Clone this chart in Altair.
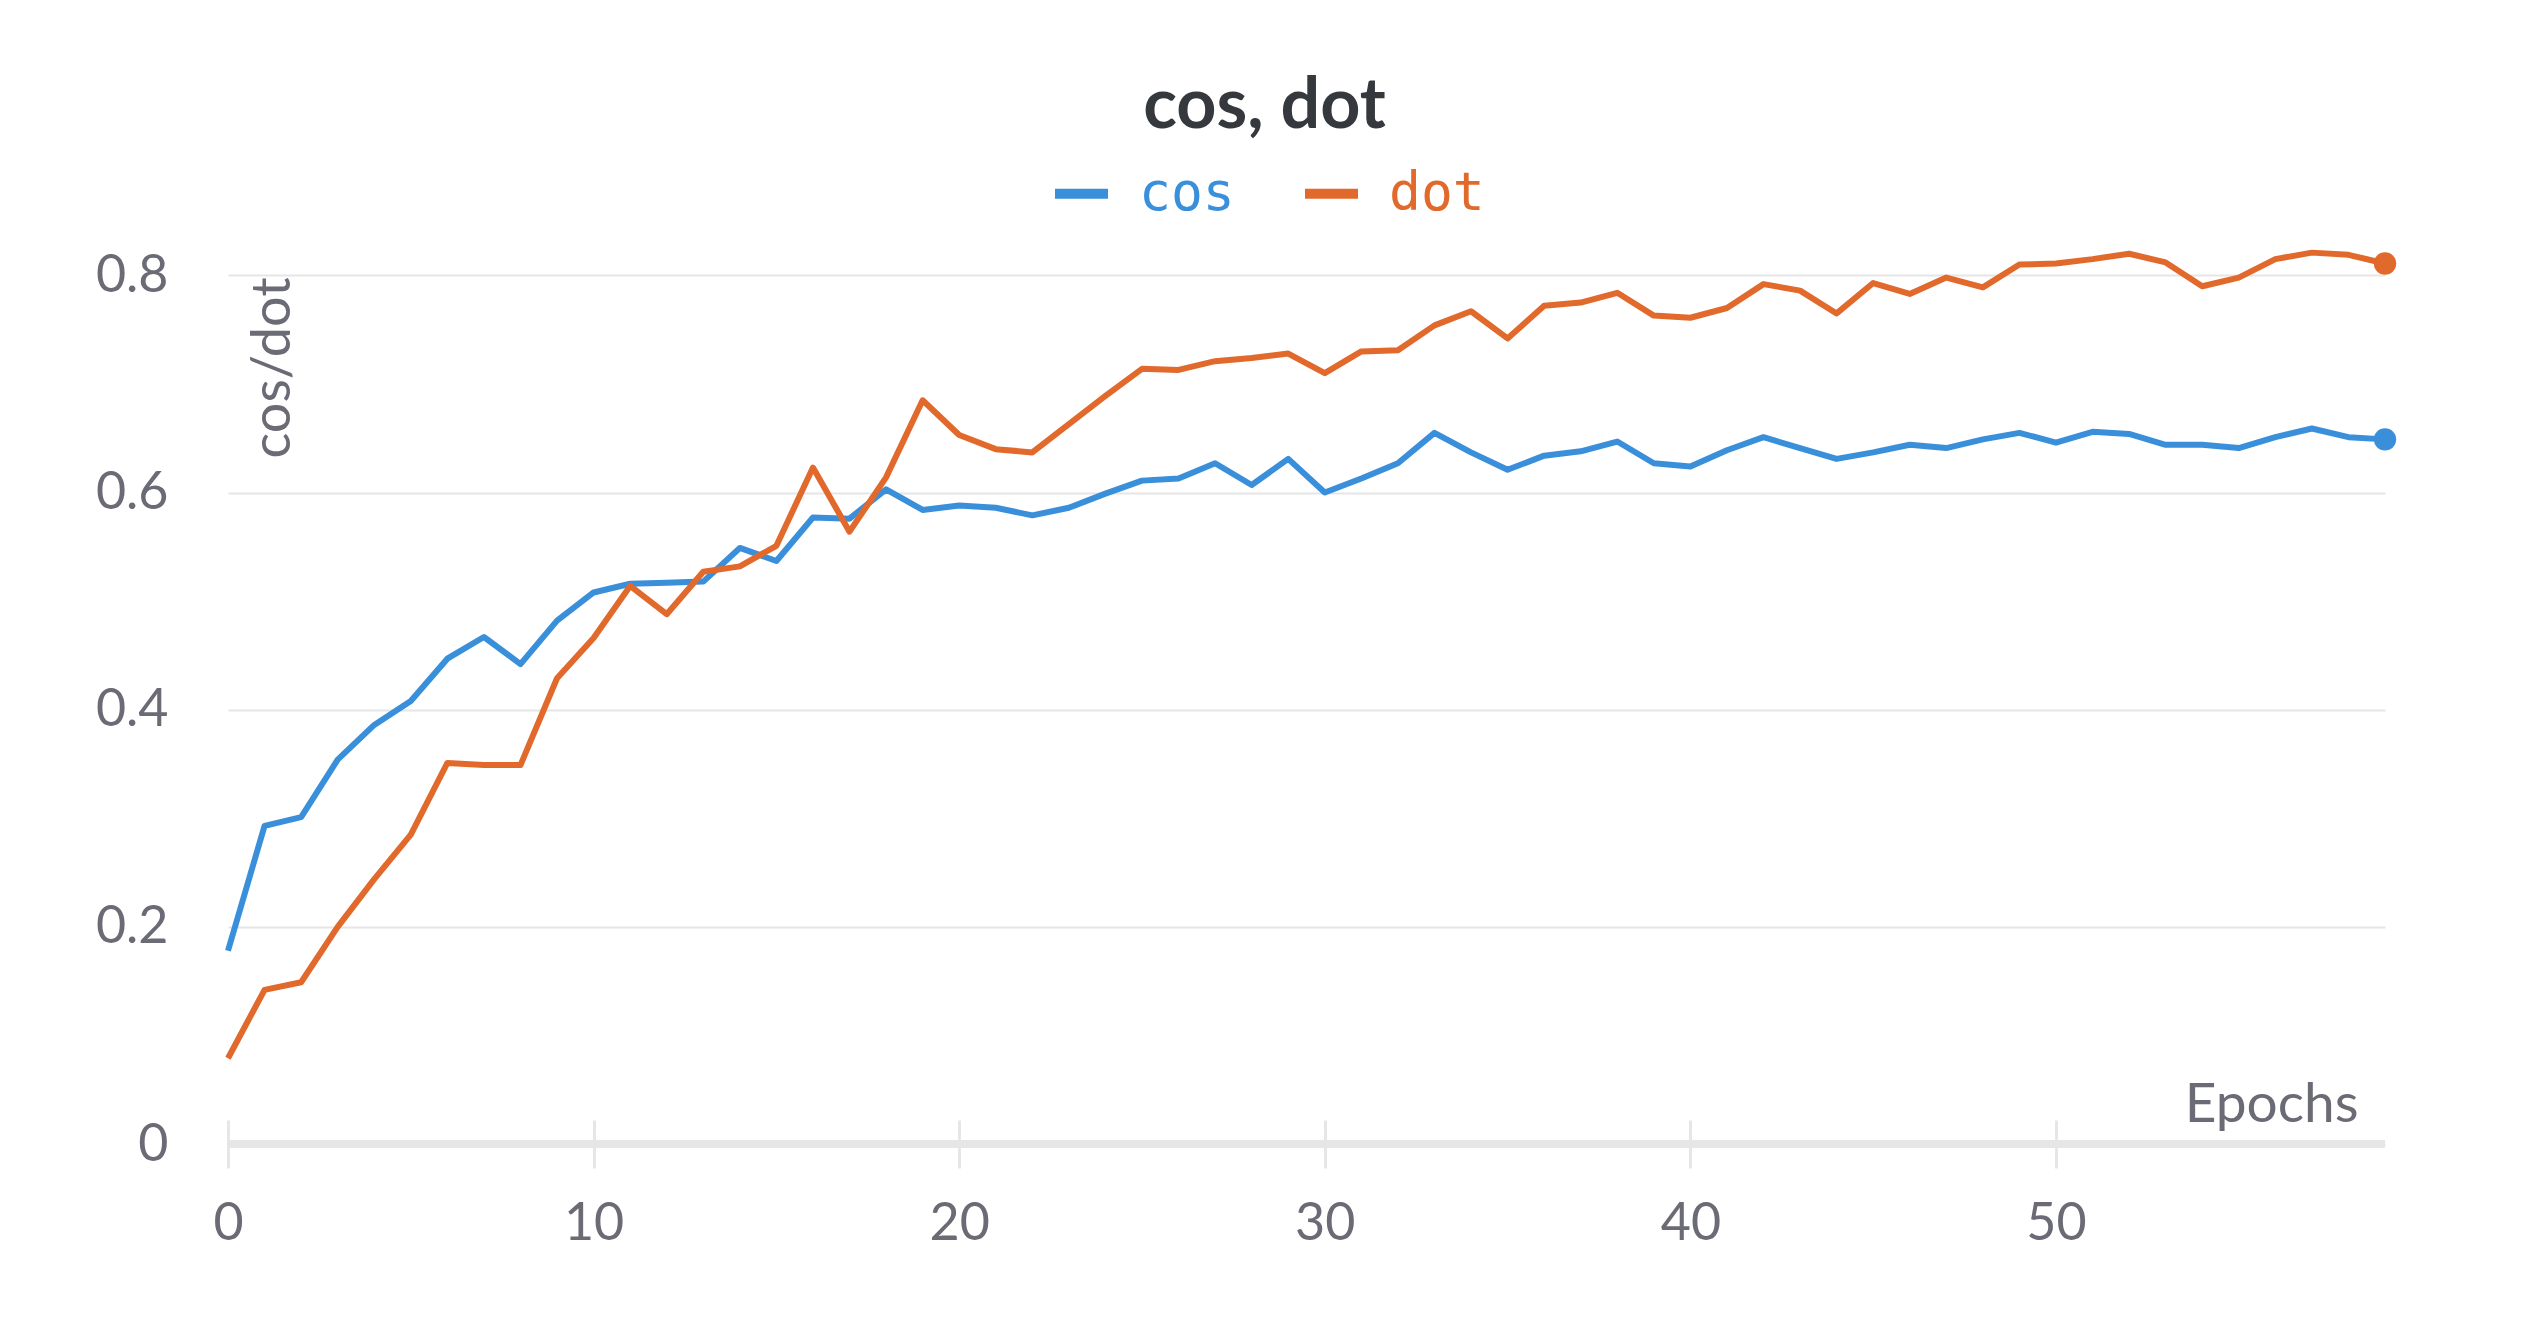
import altair as alt
import pandas as pd

epochs = list(range(60))
cos_vals = [0.178, 0.293, 0.301, 0.354, 0.386, 0.408, 0.447, 0.467, 0.442, 0.482,
            0.508, 0.516, 0.517, 0.518, 0.549, 0.537, 0.577, 0.576, 0.603, 0.584,
            0.588, 0.586, 0.579, 0.586, 0.599, 0.611, 0.613, 0.627, 0.607, 0.631,
            0.600, 0.613, 0.627, 0.655, 0.637, 0.621, 0.634, 0.638, 0.647, 0.627,
            0.624, 0.639, 0.651, 0.641, 0.631, 0.637, 0.644, 0.641, 0.649, 0.655,
            0.646, 0.656, 0.654, 0.644, 0.644, 0.641, 0.651, 0.659, 0.651, 0.649]
dot_vals = [0.079, 0.142, 0.149, 0.200, 0.244, 0.285, 0.351, 0.349, 0.349, 0.429,
            0.466, 0.514, 0.488, 0.527, 0.532, 0.551, 0.623, 0.564, 0.614, 0.685,
            0.653, 0.640, 0.637, 0.663, 0.689, 0.714, 0.713, 0.721, 0.724, 0.728,
            0.710, 0.730, 0.731, 0.754, 0.767, 0.742, 0.772, 0.775, 0.784, 0.763,
            0.761, 0.770, 0.792, 0.786, 0.765, 0.793, 0.783, 0.798, 0.789, 0.810,
            0.811, 0.815, 0.820, 0.812, 0.790, 0.798, 0.815, 0.821, 0.819, 0.811]
series_names = ["cos", "dot"]
series_colors = ["#3a8fdb", "#e1692b"]
x_ticks = [0, 10, 20, 30, 40, 50]
y_ticks = [0, 0.2, 0.4, 0.6, 0.8]

df = pd.DataFrame({
    "epoch": epochs * 2,
    "value": cos_vals + dot_vals,
    "series": ["cos"] * len(epochs) + ["dot"] * len(epochs),
})
last = df[df["epoch"] == max(epochs)]

LABEL_FONT = "Lato"
GRAY = "#6b6b76"
LINE_GRAY = "#e6e6e6"

color = alt.Color(
    "series:N",
    scale=alt.Scale(domain=series_names, range=series_colors),
    legend=alt.Legend(
        orient="none", legendX=822, legendY=-70, direction="horizontal",
        title=None, symbolType="stroke", symbolSize=2809, symbolStrokeWidth=10,
        labelFont="DejaVu Sans Mono", labelFontSize=53,
        labelColor=alt.ExprRef("scale('color', datum.value)"),
        labelOffset=26, columnPadding=50, padding=0,
    ),
)

x_enc = alt.X(
    "epoch:Q",
    scale=alt.Scale(domain=[0, 59], nice=False, zero=False),
    axis=alt.Axis(
        values=x_ticks, grid=False, domain=False, ticks=True, tickColor=LINE_GRAY,
        tickWidth=3, tickSize=48, offset=-24, labelFont=LABEL_FONT, labelFontSize=52,
        labelColor=GRAY, labelPadding=30, labelFlush=False, title="Epochs",
        titleFont=LABEL_FONT, titleFontSize=55, titleFontWeight="normal",
        titleColor=GRAY, titleAlign="right", titleAnchor="end", titleX=2130,
        titleY=1, titleBaseline="alphabetic",
    ),
)
y_enc = alt.Y(
    "value:Q",
    scale=alt.Scale(domain=[0, 0.84], nice=False),
    axis=alt.Axis(
        values=y_ticks, format="~g", grid=True, gridColor=LINE_GRAY, gridWidth=2,
        domain=False, ticks=False, labelFont=LABEL_FONT, labelFontSize=52,
        labelColor=GRAY, labelPadding=60, title="cos/dot", titleFont=LABEL_FONT,
        titleFontSize=54, titleFontWeight="normal", titleColor=GRAY, titleAngle=270,
        titleAlign="right", titleBaseline="top", titleX=18, titleY=45,
    ),
)

base_rule = alt.Chart(pd.DataFrame({"a": [0]})).mark_rule(
    color=LINE_GRAY, strokeWidth=8
).encode(x=alt.datum(0), x2=alt.datum(59), y=alt.datum(0))

lines = alt.Chart(df).mark_line(strokeWidth=6, strokeJoin="round").encode(
    x=x_enc, y=y_enc, color=color
)
dots = alt.Chart(last).mark_circle(size=500, opacity=1).encode(
    x="epoch:Q", y="value:Q", color=alt.Color("series:N", legend=None)
)

chart = alt.layer(lines, base_rule, dots).properties(
    width=2157, height=912,
    background="white",
    title=alt.TitleParams(
        "cos, dot", font=LABEL_FONT, fontSize=70, fontWeight="bold", color="#35383d",
        anchor="middle", frame="group", dx=-42, offset=-36, baseline="alphabetic",
    ),
    autosize=alt.AutoSizeParams(type="none"),
    padding={"left": 220, "top": 224, "right": 100, "bottom": 150},
).configure_view(stroke=None)

chart.save("out.html", embed_options={"renderer": "svg", "actions": False})
